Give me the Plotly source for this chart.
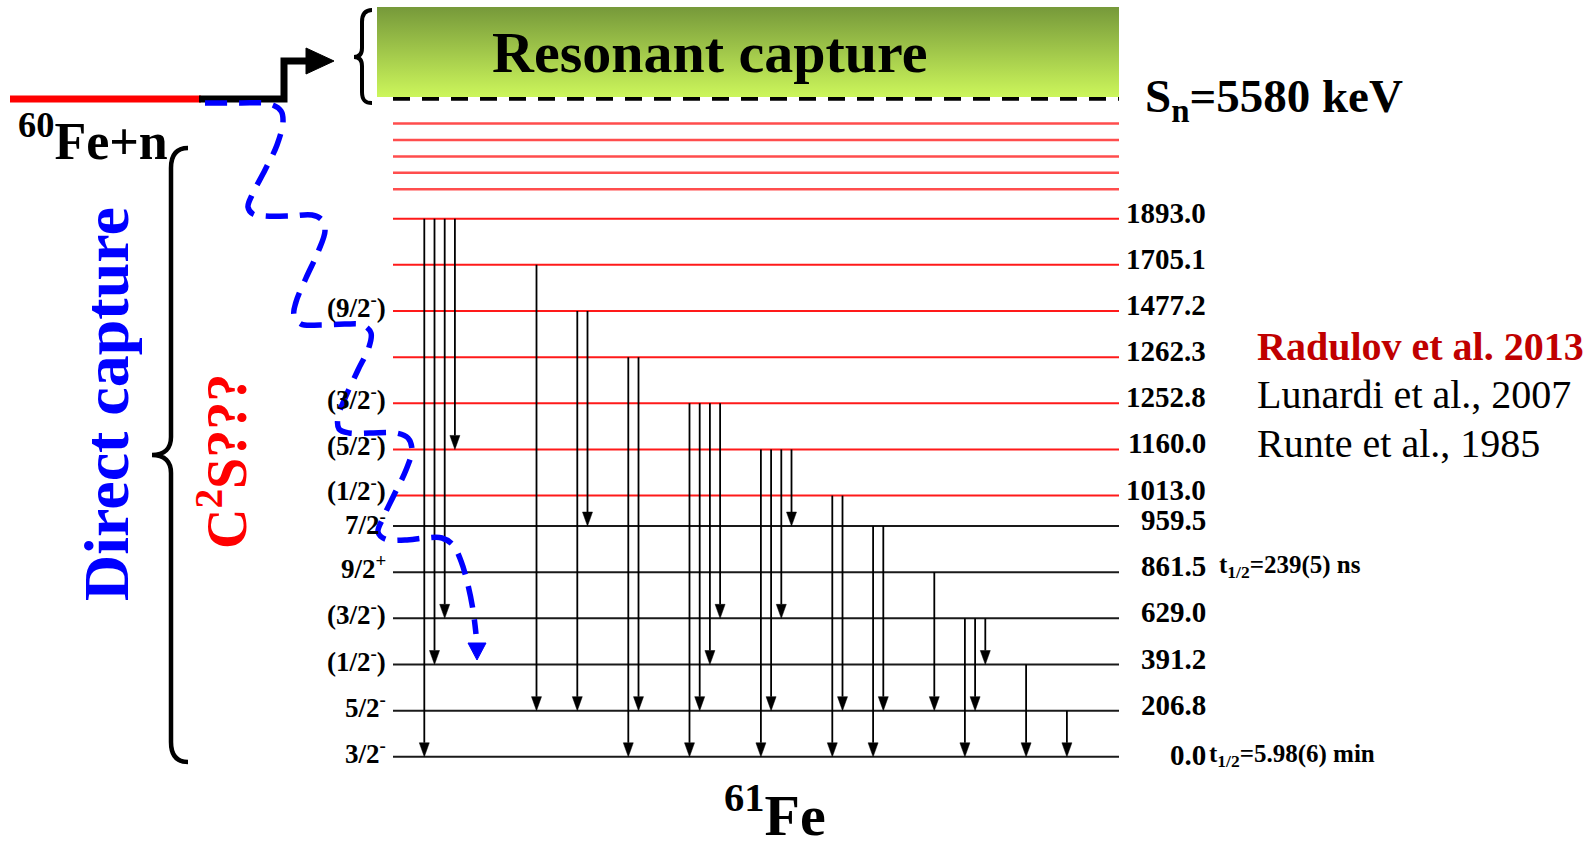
import plotly.graph_objects as go

W, H = 1595, 850

# ---------------- data ----------------
level_energies = [0.0, 206.8, 391.2, 629.0, 861.5, 959.5, 1013.0, 1160.0,
                  1252.8, 1262.3, 1477.2, 1705.1, 1893.0]
level_spins = ["3/2<sup>-</sup>", "5/2<sup>-</sup>", "(1/2<sup>-</sup>)", "(3/2<sup>-</sup>)",
               "9/2<sup>+</sup>", "7/2<sup>-</sup>", "(1/2<sup>-</sup>)", "(5/2<sup>-</sup>)",
               "(3/2<sup>-</sup>)", "", "(9/2<sup>-</sup>)", "", ""]
radulov_levels = [1013.0, 1160.0, 1252.8, 1262.3, 1477.2, 1705.1, 1893.0]
n_unplaced_levels = 5
sn_kev = 5580

half_life_levels = [861.5, 0.0]
half_life_values = ["239(5) ns", "5.98(6) min"]

gamma_from = [1893.0, 1893.0, 1893.0, 1893.0,
              1705.1,
              1477.2, 1477.2,
              1262.3, 1262.3,
              1252.8, 1252.8, 1252.8, 1252.8,
              1160.0, 1160.0, 1160.0, 1160.0,
              1013.0, 1013.0,
              959.5, 959.5,
              861.5,
              629.0, 629.0, 629.0,
              391.2,
              206.8]
gamma_to = [0.0, 391.2, 629.0, 1160.0,
            206.8,
            206.8, 959.5,
            0.0, 206.8,
            0.0, 206.8, 391.2, 629.0,
            0.0, 206.8, 629.0, 959.5,
            0.0, 206.8,
            0.0, 206.8,
            206.8,
            0.0, 206.8, 391.2,
            0.0,
            0.0]
gamma_column = [0, 1, 2, 3,
                11,
                15, 16,
                20, 21,
                26, 27, 28, 29,
                33, 34, 35, 36,
                40, 41,
                44, 45,
                50,
                53, 54, 55,
                59,
                63]

references = ["Radulov et al. 2013", "Lunardi et al., 2007", "Runte et al., 1985"]
reference_colors = ["#c00000", "black", "black"]

# ---------------- layout helpers ----------------
COL_PX0, COL_STEP = 424.3, 10.2          # pixel of gamma column 0, px per column
ROW_PX0, ROW_STEP = 756.8, 46.15         # pixel of ground state row, px per row
x_range = [(0 - COL_PX0) / COL_STEP, (W - COL_PX0) / COL_STEP]
y_range = [(ROW_PX0 - H) / ROW_STEP, ROW_PX0 / ROW_STEP]


def col_of_px(px):
    return (px - COL_PX0) / COL_STEP


def row_of(e):
    i = level_energies.index(e)
    # schematic drawing: the gap above 959.5 keV is drawn narrower
    return i - (0.34 if e > 959.5 else 0.0)


top_row = row_of(max(level_energies))
unplaced_rows = [top_row + 0.64 + 0.355 * k for k in range(n_unplaced_levels)]
sn_row = top_row + 2.6

line_x0, line_x1 = col_of_px(393), col_of_px(1119)
head_len = 14 / ROW_STEP
head_hw = 5 / COL_STEP

SERIF = "Liberation Serif, Times New Roman, serif"

fig = go.Figure()

# ---- level lines ----
rx, ry, bx, by = [], [], [], []
for e in level_energies:
    r = row_of(e)
    if e in radulov_levels:
        rx += [line_x0, line_x1, None]; ry += [r, r, None]
    else:
        bx += [line_x0, line_x1, None]; by += [r, r, None]
ux, uy = [], []
for r in unplaced_rows:
    ux += [line_x0, line_x1, None]; uy += [r, r, None]

fig.add_trace(go.Scatter(x=ux, y=uy, mode="lines", line=dict(color="#ff4d4d", width=2.5),
                         hoverinfo="skip"))
fig.add_trace(go.Scatter(x=rx, y=ry, mode="lines", line=dict(color="#ff1a1a", width=2),
                         hoverinfo="skip"))
fig.add_trace(go.Scatter(x=bx, y=by, mode="lines", line=dict(color="#1a1a1a", width=2),
                         hoverinfo="skip"))
# separation energy
fig.add_trace(go.Scatter(x=[line_x0, line_x1], y=[sn_row, sn_row], mode="lines",
                         line=dict(color="black", width=4, dash="17px,12px"), hoverinfo="skip"))

# ---- gamma transitions ----
gx, gy, hx, hy = [], [], [], []
for f, t, c in zip(gamma_from, gamma_to, gamma_column):
    rf, rt = row_of(f), row_of(t)
    gx += [c, c, None]; gy += [rf, rt + head_len, None]
    hx += [c - head_hw, c + head_hw, c, c - head_hw, None]
    hy += [rt + head_len, rt + head_len, rt, rt + head_len, None]
fig.add_trace(go.Scatter(x=gx, y=gy, mode="lines", line=dict(color="black", width=1.8),
                         hoverinfo="skip"))
fig.add_trace(go.Scatter(x=hx, y=hy, mode="lines", fill="toself", fillcolor="black",
                         line=dict(color="black", width=0.5), hoverinfo="skip"))

# ---- decorations on a pixel overlay ----
# resonant capture box
fig.add_trace(go.Scatter(x=[377, 1119, 1119, 377, 377], y=[7, 7, 97, 97, 7],
                         xaxis="x2", yaxis="y2", mode="lines", fill="toself",
                         line=dict(width=0),
                         fillgradient=dict(type="vertical",
                                           colorscale=[[0, "#ccf65b"], [1, "#76993a"]]),
                         hoverinfo="skip"))
# entrance channel line
fig.add_trace(go.Scatter(x=[10, 201], y=[99, 99], xaxis="x2", yaxis="y2", mode="lines",
                         line=dict(color="#ff0000", width=7), hoverinfo="skip"))
fig.add_trace(go.Scatter(x=[199, 284, 284, 310], y=[99, 99, 61, 61], xaxis="x2", yaxis="y2",
                         mode="lines", line=dict(color="black", width=7), hoverinfo="skip"))
fig.add_trace(go.Scatter(x=[306, 334, 306, 306], y=[48, 61, 74, 48], xaxis="x2", yaxis="y2",
                         mode="lines", fill="toself", fillcolor="black",
                         line=dict(color="black", width=1), hoverinfo="skip"))
# direct capture path
path = [(205, 103), (240, 103), (270, 104), (281, 111), (283, 122), (277, 145), (265, 170),
        (252, 195), (248, 207), (253, 214), (265, 216), (290, 216), (312, 215), (322, 220),
        (325, 231), (318, 252), (306, 278), (296, 302), (294, 315), (301, 324), (320, 325),
        (345, 324), (363, 325), (371, 333), (369, 347), (358, 370), (346, 396), (338, 417),
        (339, 429), (349, 433), (370, 433), (396, 433), (408, 438), (412, 450), (406, 470),
        (394, 495), (383, 518), (378, 532), (385, 539), (405, 540), (425, 538), (442, 538),
        (453, 545), (461, 561), (468, 585), (473, 610), (476, 634)]
fig.add_trace(go.Scatter(x=[p[0] for p in path], y=[p[1] for p in path], xaxis="x2",
                         yaxis="y2", mode="lines",
                         line=dict(color="#0000ff", width=5.5, dash="22px,12px",
                                   shape="spline"),
                         hoverinfo="skip"))
fig.add_trace(go.Scatter(x=[468, 486, 477, 468], y=[643, 643, 660, 643], xaxis="x2",
                         yaxis="y2", mode="lines", fill="toself", fillcolor="#0000ff",
                         line=dict(color="#0000ff", width=1), hoverinfo="skip"))

shapes = [
    # brace beside the resonant box
    dict(type="path", xref="x2", yref="y2",
         path="M 372,10 C 365,10 362,14 362,22 L 362,48 C 362,54 359,57 354,57 "
              "C 359,57 362,60 362,66 L 362,92 C 362,100 365,103 372,103",
         line=dict(color="black", width=4)),
    # big brace for direct capture
    dict(type="path", xref="x2", yref="y2",
         path="M 188,148 C 176,148 171,155 171,168 L 171,437 C 171,448 165,455 152,455 "
              "C 165,455 171,462 171,473 L 171,742 C 171,755 176,762 188,762",
         line=dict(color="black", width=4.5)),
]

ann = []


def txt(text, x, y, size, xanchor="center", yanchor="middle", color="black", xref="x2",
        yref="y2", angle=0, yshift=0):
    ann.append(dict(text=text, x=x, y=y, xref=xref, yref=yref, showarrow=False,
                    xanchor=xanchor, yanchor=yanchor, textangle=angle, yshift=yshift,
                    font=dict(family=SERIF, size=size, color=color)))


# level labels
spin_shift = {1013.0: 7, 959.5: 3}
for e, s in zip(level_energies, level_spins):
    r = row_of(e)
    txt(f"<b>{e:.1f}</b>", 1208, r, 29, xanchor="right", yref="y",
        yshift=6 if e > 0 else 2)
    if s:
        txt(f"<b>{s}</b>", 388, r, 27, xanchor="right", yref="y",
            yshift=spin_shift.get(e, 5))

half_life_x = {861.5: 1217, 0.0: 1207}
for e, v in zip(half_life_levels, half_life_values):
    txt(f"<b>t<sub>1/2</sub>={v}</b>", half_life_x[e], row_of(e), 25, xanchor="left",
        yref="y", yshift=6 if e > 0 else 1)

# big titles
txt("<b>Resonant capture</b>", 710, 52, 58)
txt(f"<b>S<sub>n</sub>={sn_kev} keV</b>", 1143, 99, 47, xanchor="left")
txt("<b><sup>60</sup>Fe+n</b>", 16, 137, 52, xanchor="left")
txt("<b><sup>61</sup>Fe</b>", 775, 811, 58)
txt("<b>Direct capture</b>", 106, 404, 64, color="#0000ff", angle=-90)
txt("<b>C<sup>2</sup>S???</b>", 222, 462, 56, color="#ff0000", angle=-90)

ref_y = [346, 394, 443]
for rtext, rc, yy in zip(references, reference_colors, ref_y):
    t = f"<b>{rtext}</b>" if rc != "black" else rtext
    txt(t, 1255, yy, 40, xanchor="left", color=rc)

fig.update_layout(
    width=W, height=H, margin=dict(l=0, r=0, t=0, b=0),
    paper_bgcolor="white", plot_bgcolor="white", showlegend=False,
    xaxis=dict(range=x_range, visible=False, fixedrange=True),
    yaxis=dict(range=y_range, visible=False, fixedrange=True),
    xaxis2=dict(range=[0, W], overlaying="x", visible=False, fixedrange=True),
    yaxis2=dict(range=[H, 0], overlaying="y", visible=False, fixedrange=True),
    shapes=shapes, annotations=ann,
)

fig.write_html("out.html")
